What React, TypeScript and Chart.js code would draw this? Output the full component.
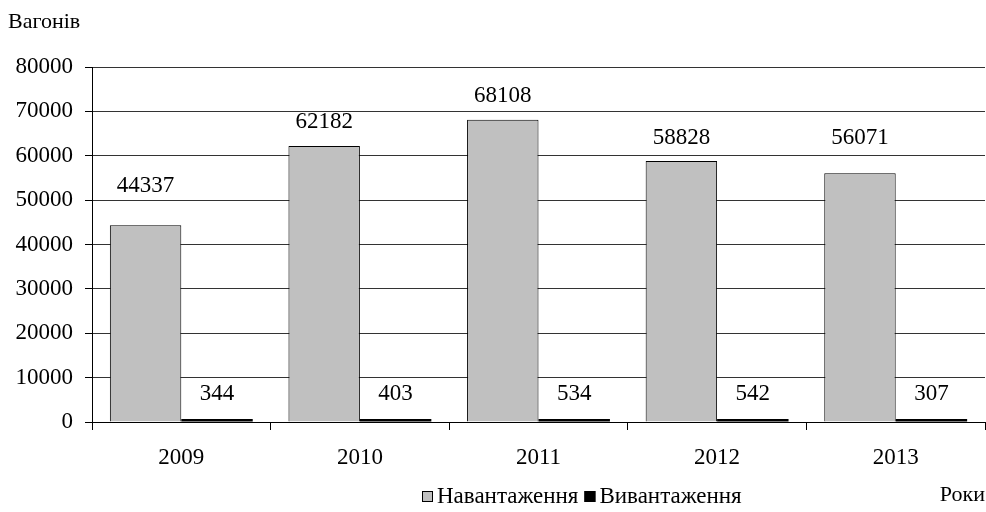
import React, { useEffect, useRef } from "react";
import { Chart, registerables } from "chart.js";

Chart.register(...registerables);

const categories = ["2009", "2010", "2011", "2012", "2013"];
const loading = [44337, 62182, 68108, 58828, 56071];
const unloading = [344, 403, 534, 542, 307];
const seriesNames = ["Навантаження", "Вивантаження"];
const yTitle = "Вагонів";
const xTitle = "Роки";

// styling: label distances above bar tops (px)
const labelOffsets = [
  [39, 24, 24, 23, 35],
  [25, 25, 25, 25, 25],
];

const FONT = "'Liberation Serif', 'Times New Roman', serif";
const FS = 23;

const overlayPlugin = {
  id: "overlay",
  afterDatasetsDraw(chart: any) {
    const ctx = chart.ctx;
    ctx.save();
    ctx.font = `${FS}px ${FONT}`;
    ctx.fillStyle = "#000";
    ctx.textAlign = "center";
    ctx.textBaseline = "middle";
    chart.data.datasets.forEach((ds: any, di: number) => {
      const meta = chart.getDatasetMeta(di);
      meta.data.forEach((el: any, i: number) => {
        ctx.fillText(String(ds.data[i]), el.x, el.y - labelOffsets[di][i]);
      });
    });
    ctx.restore();
  },
  afterDraw(chart: any) {
    const ctx = chart.ctx;
    ctx.save();
    ctx.fillStyle = "#000";
    ctx.textBaseline = "middle";
    ctx.font = `${FS - 1}px ${FONT}`;
    ctx.textAlign = "left";
    ctx.fillText(yTitle, 8, 22);
    ctx.textAlign = "right";
    ctx.fillText(xTitle, 985, 495);
    // legend
    ctx.font = `${FS}px ${FONT}`;
    ctx.textAlign = "left";
    const cy = 496;
    let x = 422;
    const colors = ["#c0c0c0", "#000000"];
    seriesNames.forEach((name, i) => {
      ctx.fillStyle = colors[i];
      ctx.fillRect(x, cy - 5, 11, 11);
      ctx.strokeStyle = "#000";
      ctx.lineWidth = 1;
      ctx.strokeRect(x + 0.5, cy - 4.5, 10, 10);
      ctx.fillStyle = "#000";
      ctx.fillText(name, x + 15, cy + 1);
      x += 15 + ctx.measureText(name).width + 6;
    });
    ctx.restore();
  },
};

export default function App() {
  const ref = useRef<HTMLCanvasElement | null>(null);
  useEffect(() => {
    if (!ref.current) return;
    const chart = new Chart(ref.current, {
      type: "bar",
      data: {
        labels: categories,
        datasets: [
          {
            label: seriesNames[0],
            data: loading,
            backgroundColor: "#c0c0c0",
            borderColor: "#000",
            borderWidth: 1,
            categoryPercentage: 0.8,
            barPercentage: 1,
          },
          {
            label: seriesNames[1],
            data: unloading,
            backgroundColor: "#000",
            borderWidth: 0,
            minBarLength: 3,
            categoryPercentage: 0.8,
            barPercentage: 1,
          },
        ],
      },
      options: {
        responsive: false,
        animation: false,
        layout: { padding: { top: 67, right: 1, left: 0, bottom: 0 } },
        plugins: { legend: { display: false }, tooltip: { enabled: false } },
        scales: {
          x: {
            grid: {
              display: true,
              drawOnChartArea: false,
              offset: true,
              tickLength: 8,
              color: "#000",
            },
            border: { color: "#000", width: 1 },
            ticks: { color: "#000", font: { family: FONT, size: FS }, padding: 14 },
            afterFit: (s: any) => {
              s.height = 90;
            },
          },
          y: {
            min: 0,
            max: 80000,
            ticks: {
              stepSize: 10000,
              color: "#000",
              font: { family: FONT, size: FS },
              padding: 12,
              callback: (v: any) => String(v),
            },
            grid: { color: "#333", tickLength: 7, tickColor: "#000" },
            border: { color: "#000", width: 1 },
            afterFit: (s: any) => {
              s.width = 92;
            },
          },
        },
      },
      plugins: [overlayPlugin],
    });
    return () => chart.destroy();
  }, []);
  return (
    <div style={{ position: "fixed", left: 0, top: 0, width: 986, height: 512, background: "#fff" }}>
      <canvas ref={ref} width={986} height={512} />
    </div>
  );
}
